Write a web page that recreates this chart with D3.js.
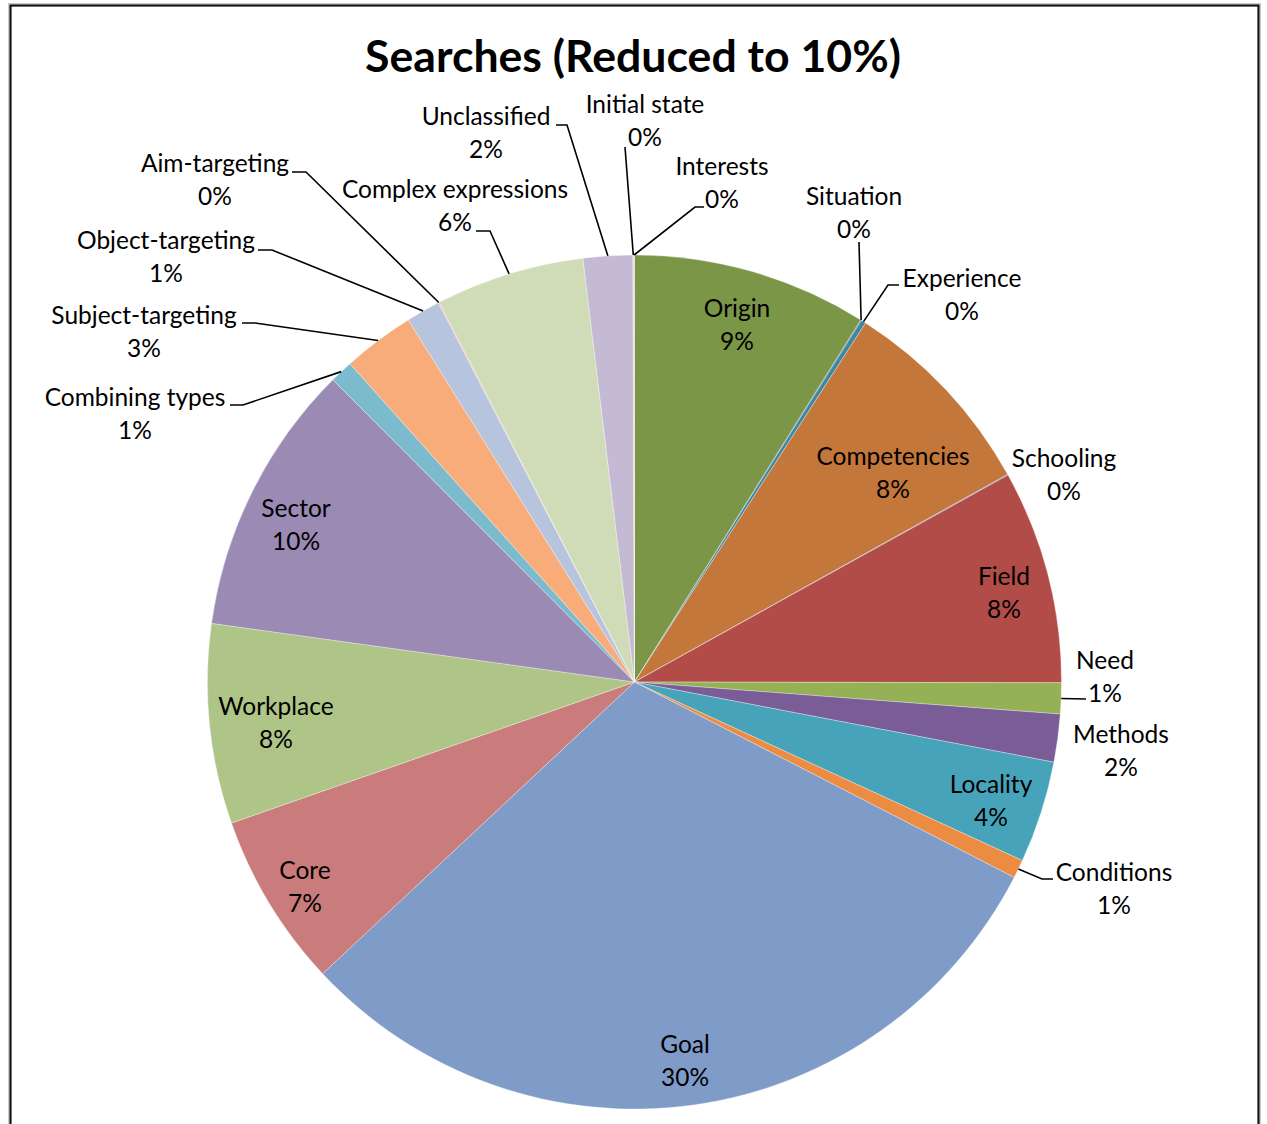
<!DOCTYPE html>
<html>
<head>
<meta charset="utf-8">
<script src="https://cdn.jsdelivr.net/npm/d3@7"></script>
<style>
  body { margin: 0; background: #fff; }
  svg { display: block; }
  text { font-family: Lato, "Open Sans", "Noto Sans", sans-serif; fill: #000; }
</style>
</head>
<body>
<svg id="chart" width="1267" height="1124"></svg>
<script>
// ---- data (clockwise from 12 o'clock) ----
const categories = ["Origin","Situation","Experience","Competencies","Schooling","Field","Need","Methods","Locality","Conditions","Goal","Core","Workplace","Sector","Combining types","Subject-targeting","Object-targeting","Aim-targeting","Complex expressions","Unclassified","Initial state","Interests"];
const values = [8.89,0.03,0.18,7.82,0.03,8.08,1.17,1.81,3.86,0.70,30.47,6.61,7.55,10.32,0.88,2.72,1.29,0.04,5.63,1.87,0.03,0.03];
const colors = ["#7a9646","#5f4a7b","#3b88a2","#c4773a","#4f81bd","#b24c48","#94b155","#7a5c97","#47a3ba","#ec8c43","#7f9cc8","#c97c7b","#aec587","#9b8ab3","#7cbacd","#f7ac79","#b6c4de","#e6b3ae","#d0dcb8","#c5bad3","#a9cfdc","#f9c8a4"];
const title = "Searches (Reduced to 10%)";

// ---- layout ----
const W = 1267, H = 1124;
const cx0 = 634.5, cy0 = 682, R = 427;
const FS = 24.5, LINE = 33;

// label placement, offsets relative to the pie centre
// t: text block centre, a: leader attach point, e: horizontal elbow length
const labelLayout = {
  "Origin":              { t: [102.5, -357.5] },
  "Competencies":        { t: [258.5, -209.5] },
  "Field":               { t: [369.5, -89.5] },
  "Locality":            { t: [356.5, 119] },
  "Goal":                { t: [50.5, 379] },
  "Core":                { t: [-329.5, 205] },
  "Workplace":           { t: [-358.5, 41] },
  "Sector":              { t: [-338.5, -157.5] },
  "Unclassified":        { t: [-148.5, -549.5], a: [-78.5, -557], e: 11 },
  "Initial state":       { t: [10.5, -561],     a: [-9.5, -535],  e: 0 },
  "Interests":           { t: [87.5, -499.5],   a: [69.5, -475],  e: -9 },
  "Situation":           { t: [219.5, -469.5],  a: [224.5, -440], e: 0 },
  "Experience":          { t: [327.5, -387.5],  a: [264.5, -397], e: -11 },
  "Schooling":           { t: [429.5, -207.5] },
  "Need":                { t: [470.5, -5.5],    a: [451.5, 17],   e: 0 },
  "Methods":             { t: [486.5, 68.5] },
  "Conditions":          { t: [479.5, 207],     a: [418.5, 197],  e: -11 },
  "Complex expressions": { t: [-179.5, -476],   a: [-158.5, -451], e: 14 },
  "Aim-targeting":       { t: [-419.5, -502],   a: [-342.5, -510], e: 14 },
  "Object-targeting":    { t: [-468.5, -425],   a: [-376.5, -432], e: 14 },
  "Subject-targeting":   { t: [-490.5, -350.5], a: [-392.5, -359], e: 13 },
  "Combining types":     { t: [-499.5, -268.5], a: [-404.5, -277], e: 13 }
};

const data = categories.map((c, i) => ({ name: c, value: values[i], color: colors[i] }));
const total = d3.sum(values);
const pct = v => Math.round(v / total * 100) + "%";

const svg = d3.select("#chart");

// frame
svg.append("rect").attr("x", 8.5).attr("y", 3.5).attr("width", 1252).attr("height", 1150)
  .attr("fill", "none").attr("stroke", "#c8c8c8").attr("stroke-width", 1);
svg.append("rect").attr("x", 10.5).attr("y", 5.5).attr("width", 1248).attr("height", 1150)
  .attr("fill", "none").attr("stroke", "#111").attr("stroke-width", 2.2);

// title
svg.append("text").attr("x", 633).attr("y", 72).attr("text-anchor", "middle")
  .attr("font-size", 44.6).attr("font-weight", 700).text(title);

const g = svg.append("g").attr("transform", `translate(${cx0},${cy0})`);

const pie = d3.pie().sort(null).value(d => d.value);
const arc = d3.arc().innerRadius(0).outerRadius(R);
const arcs = pie(data);

g.selectAll("path.slice").data(arcs).join("path")
  .attr("class", "slice")
  .attr("d", arc)
  .attr("fill", d => d.data.color)
  .attr("stroke", "#ffffff").attr("stroke-opacity", 0.45).attr("stroke-width", 0.7);

// labels
const lineG = g.append("g");
const lg = g.append("g");
arcs.forEach(a => {
  const name = a.data.name;
  const lay = labelLayout[name];
  const mid = (a.startAngle + a.endAngle) / 2;
  const lab = lg.append("g");
  const t1 = lab.append("text").attr("text-anchor", "middle").attr("font-size", FS).text(name);
  const t2 = lab.append("text").attr("text-anchor", "middle").attr("font-size", FS).text(pct(a.data.value));
  let x, y;
  if (lay) {
    [x, y] = lay.t;
    if (lay.a) {
      const edge = [R * Math.sin(mid), -R * Math.cos(mid)];
      const p2 = lay.a;
      const pts = [edge];
      if (lay.e) pts.push([p2[0] + lay.e, p2[1]]);
      pts.push(p2);
      lineG.append("path")
        .attr("d", d3.line()(pts))
        .attr("fill", "none").attr("stroke", "#000").attr("stroke-width", 1.6);
    }
  } else {
    // fallback: fit inside the slice along its bisector
    const w = Math.max(t1.node().getComputedTextLength(), t2.node().getComputedTextLength());
    const hw = w / 2 + 2, hh = LINE / 2 + FS * 0.45;
    let r = 0.88 * R;
    const lim = R - 4;
    while (r > 0) {
      x = r * Math.sin(mid); y = -r * Math.cos(mid);
      const ok = [[x - hw, y - hh], [x + hw, y - hh], [x - hw, y + hh], [x + hw, y + hh]]
        .every(p => Math.hypot(p[0], p[1]) <= lim);
      if (ok) break;
      r -= 1;
    }
  }
  t1.attr("x", x).attr("y", y - LINE / 2).attr("dy", "0.36em");
  t2.attr("x", x).attr("y", y + LINE / 2).attr("dy", "0.36em");
});
</script>
</body>
</html>
